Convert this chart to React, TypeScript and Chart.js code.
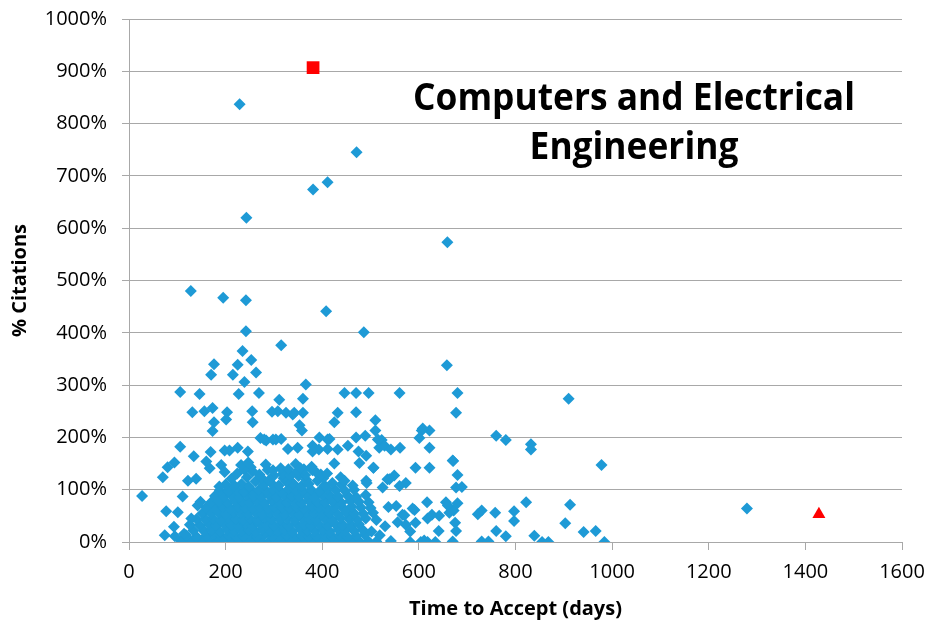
import React, { useEffect, useRef } from "react";
import { Chart, registerables } from "chart.js";

Chart.register(...registerables);

const FONT = "'Open Sans', 'Liberation Sans', sans-serif";
const BLUE = "rgb(30,154,214)";
const RED = "#FF0000";
const GRID = "#A8A8A8";

const TITLE_LINES = ["Computers and Electrical", "Engineering"];
const X_TITLE = "Time to Accept (days)";
const Y_TITLE = "% Citations";

const X_MIN = 0;
const X_MAX = 1600;
const X_STEP = 200;
const Y_MIN = 0;
const Y_MAX = 1000;
const Y_STEP = 100;

// [days to accept, % citations]
const highPoints: number[][] = [
  [229, 837], [471, 745], [411, 688], [381, 674], [243, 620], [659, 573],
  [128, 480], [195, 467], [242, 462], [408, 441], [242, 403], [486, 401],
  [315, 376], [235, 365], [253, 348], [176, 340], [225, 339], [658, 338],
  [263, 324], [170, 320], [215, 320], [239, 306], [366, 301],
];

const midPoints: number[][] = [
  [106, 287], [146, 283], [227, 283], [269, 285], [446, 285], [470, 285], [496, 285], [560, 285], [680, 285],
  [360, 274], [311, 272], [910, 274],
  [131, 248], [156, 250], [173, 256], [203, 248], [255, 250], [308, 250], [339, 244], [342, 247], [360, 247],
  [432, 247], [470, 248], [677, 247], [296, 249], [325, 247],
  [201, 234], [176, 229], [256, 229], [353, 223], [425, 229], [510, 233], [173, 212], [358, 213], [510, 213],
  [606, 213], [622, 213], [608, 217],
  [272, 199], [284, 194], [304, 196], [315, 197], [298, 196], [280, 196], [394, 200], [411, 196], [415, 197],
  [489, 203], [470, 200], [601, 199], [760, 203], [780, 195], [523, 195], [515, 196],
  [329, 178], [106, 182], [169, 172], [198, 175], [208, 175], [225, 180], [246, 173], [349, 180], [380, 184],
  [393, 177], [411, 178], [432, 177], [453, 184], [380, 173], [475, 173], [518, 180], [529, 184], [542, 177],
  [561, 180], [622, 180], [832, 187], [832, 177], [491, 165],
  [134, 164], [94, 152], [160, 154], [191, 147], [232, 147], [247, 152], [425, 150], [477, 151], [670, 156], [978, 147],
  [80, 143], [167, 141], [198, 134], [355, 141], [387, 134], [506, 142], [593, 142], [622, 142],
];

const edgePoints: number[][] = [
  [27, 88], [111, 87], [77, 59], [101, 57], [74, 13], [93, 29], [114, 16], [70, 124], [122, 117], [139, 121],
  [142, 70], [129, 45], [218, 108], [187, 106], [446, 117], [463, 108], [491, 117], [535, 120], [549, 127],
  [539, 120], [573, 113], [560, 107], [525, 104], [492, 113],
];

const tailPoints: number[][] = [
  [537, 67], [553, 69], [566, 52], [591, 61], [556, 38], [593, 37], [573, 33], [582, 20], [519, 13], [542, 2],
  [582, 0], [604, 0], [618, 0], [634, 0], [618, 45], [627, 52], [642, 50], [641, 21], [617, 76], [656, 76],
  [663, 56], [675, 37], [677, 21], [670, 1], [660, 70], [672, 60], [680, 74], [722, 53], [730, 60], [730, 1],
  [744, 1], [758, 56], [760, 21], [780, 11], [797, 40], [797, 59], [822, 76], [839, 12], [855, 0], [868, 0],
  [903, 36], [913, 71], [941, 19], [966, 21], [984, 0], [506, 142], [671, 155], [680, 128], [677, 104],
  [689, 105], [611, 3], [570, 51], [587, 64], [1279, 64],
];

const corePoints: number[][] = [
  [108, 2], [128, 1], [150, 3], [168, 0], [183, 2], [200, 1], [215, 3], [228, 0], [245, 2], [258, 1], [272, 3],
  [290, 0], [305, 2], [318, 1], [335, 3], [350, 0], [365, 2], [380, 1], [398, 3], [412, 0], [428, 2], [445, 1],
  [462, 3], [478, 0], [495, 2], [512, 1],
  [95, 11], [118, 13], [140, 10], [160, 12], [176, 14], [192, 11], [207, 13], [222, 10], [237, 12], [250, 14],
  [265, 11], [280, 13], [297, 10], [312, 12], [326, 14], [342, 11], [358, 13], [372, 10], [388, 12], [405, 14],
  [420, 11], [436, 13], [452, 10], [470, 12], [488, 14],
  [133, 22], [155, 21], [171, 23], [188, 20], [203, 24], [218, 22], [233, 21], [247, 23], [262, 20], [276, 24],
  [292, 22], [308, 21], [322, 23], [338, 20], [355, 24], [368, 22], [384, 21], [400, 23], [416, 20], [433, 24],
  [448, 22], [466, 21], [484, 23], [502, 20],
  [126, 33], [146, 32], [165, 34], [180, 31], [196, 35], [212, 33], [226, 32], [241, 34], [256, 31], [270, 35],
  [285, 33], [300, 32], [316, 34], [330, 31], [346, 35], [362, 33], [377, 32], [393, 34], [410, 31], [426, 35],
  [442, 33], [460, 32], [476, 34], [530, 30],
  [140, 44], [158, 43], [174, 45], [190, 42], [205, 46], [220, 44], [236, 43], [250, 45], [266, 42], [281, 46],
  [295, 44], [312, 43], [327, 45], [342, 42], [358, 46], [373, 44], [388, 43], [405, 45], [420, 42], [438, 46],
  [455, 44], [472, 43], [490, 45], [512, 42],
  [152, 55], [170, 54], [186, 56], [200, 53], [216, 57], [231, 55], [246, 54], [262, 56], [276, 53], [292, 57],
  [306, 55], [322, 54], [338, 56], [352, 53], [367, 57], [384, 55], [399, 54], [415, 56], [432, 53], [450, 57],
  [466, 55], [485, 54], [505, 56],
  [160, 66], [178, 65], [193, 67], [210, 64], [225, 68], [240, 66], [255, 65], [271, 67], [287, 64], [300, 68],
  [316, 66], [332, 65], [347, 67], [362, 64], [378, 68], [394, 66], [410, 65], [426, 67], [444, 64], [461, 68],
  [480, 66], [500, 65],
  [148, 77], [170, 76], [186, 78], [203, 75], [218, 79], [234, 77], [249, 76], [264, 78], [280, 75], [296, 79],
  [311, 77], [327, 76], [341, 78], [357, 75], [372, 79], [390, 77], [406, 76], [421, 78], [440, 75], [458, 79],
  [476, 77], [496, 76],
  [178, 88], [196, 87], [212, 89], [228, 86], [243, 90], [258, 88], [274, 87], [290, 89], [305, 86], [320, 90],
  [336, 88], [352, 87], [367, 89], [383, 86], [400, 90], [416, 88], [433, 87], [452, 89], [470, 86], [490, 90],
  [188, 99], [206, 98], [222, 100], [238, 97], [252, 101], [268, 99], [284, 98], [298, 100], [314, 97], [330, 101],
  [345, 99], [360, 98], [377, 100], [394, 97], [411, 101], [428, 99], [447, 98], [466, 100],
  [200, 110], [233, 111], [248, 106], [279, 110], [294, 113], [310, 108], [340, 112], [357, 107], [372, 111],
  [405, 108], [421, 113], [440, 110], [262, 116], [325, 116], [390, 117],
  [212, 121], [244, 124], [274, 123], [290, 118], [320, 122], [351, 126], [367, 119], [402, 122], [438, 124],
  [224, 131], [256, 135], [287, 138], [318, 130], [348, 134], [380, 137], [397, 129], [300, 127], [334, 127],
  [365, 128], [270, 129], [410, 131],
  [252, 143], [283, 148], [314, 141], [345, 149], [378, 144], [238, 139], [298, 137], [330, 139], [362, 139],
];

const squarePoint: number[][] = [[381, 907]];
const trianglePoint: number[][] = [[1428, 53]];

const toXY = (pts: number[][]) => pts.map(([x, y]) => ({ x, y }));

// Two-line heading drawn inside the plot area, condensed to a fixed width
const titlePlugin = {
  id: "panelTitle",
  afterDraw(chart: any, _args: any, opts: any) {
    const ctx = chart.ctx as CanvasRenderingContext2D;
    ctx.save();
    ctx.font = `bold ${opts.size}px ${FONT}`;
    ctx.fillStyle = "#000";
    ctx.textAlign = "center";
    ctx.textBaseline = "alphabetic";
    const widest = Math.max(...opts.lines.map((l: string) => ctx.measureText(l).width));
    const sx = Math.min(1, opts.maxWidth / widest);
    opts.lines.forEach((line: string, i: number) => {
      ctx.save();
      ctx.translate(opts.x, opts.y + i * opts.lineGap);
      ctx.scale(sx, 1);
      ctx.fillText(line, 0, 0);
      ctx.restore();
    });
    ctx.restore();
  },
};

export default function App() {
  const ref = useRef<HTMLCanvasElement | null>(null);

  useEffect(() => {
    if (!ref.current) return;
    const tickFont = { family: FONT, size: 20 };
    const titleFont = { family: FONT, size: 20, weight: "bold" as const };
    const chart = new Chart(ref.current, {
      type: "scatter",
      data: {
        datasets: [
          {
            label: "square",
            data: toXY(squarePoint),
            pointStyle: "rect",
            pointRadius: 9,
            backgroundColor: RED,
            borderWidth: 0,
          },
          {
            label: "triangle",
            data: toXY(trianglePoint),
            pointStyle: "triangle",
            pointRadius: 7.5,
            backgroundColor: RED,
            borderWidth: 0,
          },
          {
            label: "articles",
            data: toXY([...corePoints, ...edgePoints, ...midPoints, ...tailPoints, ...highPoints]),
            pointStyle: "rectRot",
            pointRadius: 6,
            backgroundColor: BLUE,
            borderWidth: 0,
          },
        ],
      },
      options: {
        responsive: false,
        animation: false,
        events: [],
        layout: { padding: { top: 19, right: 27, bottom: 0, left: 0 } },
        plugins: {
          legend: { display: false },
          tooltip: { enabled: false },
          panelTitle: { lines: TITLE_LINES, x: 634, y: 110, lineGap: 49, size: 37, maxWidth: 442 },
        } as any,
        scales: {
          x: {
            type: "linear",
            min: X_MIN,
            max: X_MAX,
            ticks: {
              stepSize: X_STEP,
              font: tickFont,
              color: "#000",
              padding: 10,
              maxRotation: 0,
              autoSkip: false,
              callback: (v: any) => `${v}`,
            },
            grid: { drawOnChartArea: false, drawTicks: true, tickLength: 8, color: GRID },
            border: { display: true, color: GRID },
            title: { display: true, text: X_TITLE, font: titleFont, color: "#000", padding: { top: 4, bottom: 5 } },
            afterFit: (s: any) => {
              s.height = 84;
              s.paddingLeft = 0;
              s.paddingRight = 0;
            },
          },
          y: {
            type: "linear",
            min: Y_MIN,
            max: Y_MAX,
            ticks: {
              stepSize: Y_STEP,
              font: tickFont,
              color: "#000",
              padding: 15,
              callback: (v: any) => `${v}%`,
            },
            grid: { color: GRID, tickLength: 7 },
            border: { display: true, color: GRID },
            title: { display: true, text: Y_TITLE, font: titleFont, color: "#000", padding: { top: 8, bottom: 0 } },
            afterFit: (s: any) => {
              s.width = 129;
              s.paddingTop = 0;
              s.paddingBottom = 0;
            },
          },
        },
      },
      plugins: [titlePlugin],
    });
    return () => chart.destroy();
  }, []);

  return (
    <div style={{ position: "absolute", left: 0, top: 0, width: 929, height: 626, background: "#fff" }}>
      <canvas ref={ref} width={929} height={626} style={{ display: "block" }} />
    </div>
  );
}
